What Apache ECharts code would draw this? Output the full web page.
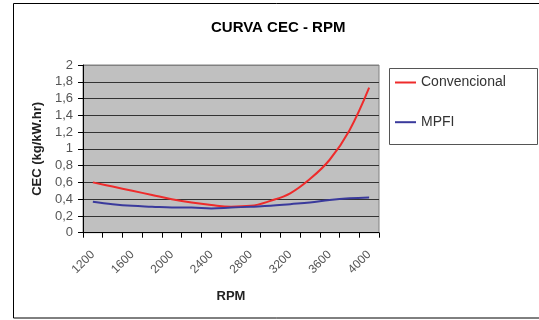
<!DOCTYPE html>
<html>
<head>
<meta charset="utf-8">
<script src="https://cdn.jsdelivr.net/npm/echarts@6/dist/echarts.min.js"></script>
<style>
html,body{margin:0;padding:0;background:#fff;}
#chart{width:539px;height:320px;}
</style>
</head>
<body>
<div id="chart"></div>
<script>
var rpmCategories = ['1200','1400','1600','1800','2000','2200','2400','2600','2800','3000','3200','3400','3600','3800','4000'];
var convencional = [0.60,0.55,0.50,0.45,0.40,0.36,0.33,0.31,0.32,0.38,0.47,0.64,0.87,1.22,1.73];
var mpfi = [0.37,0.34,0.32,0.31,0.30,0.30,0.29,0.30,0.31,0.32,0.34,0.36,0.39,0.41,0.42];
var seriesNames = ['Convencional','MPFI'];
var titleText = 'CURVA CEC - RPM';
var yAxisName = 'CEC (kg/kW.hr)';
var xAxisName = 'RPM';

var FONT = '"Liberation Sans", Arial, sans-serif';
var chart = echarts.init(document.getElementById('chart'), null, {renderer:'canvas'});
var gridLineColors = ['#808080','#333','#333','#333','#333','#333','#333','#333','#333','#333','#808080'];
chart.setOption({
  animation:false,
  backgroundColor:'#fff',
  title:{text:titleText, left:206, top:15,
    textStyle:{fontFamily:FONT, fontSize:15, fontWeight:'bold', color:'#000'}},
  legend:{left:390, top:70, orient:'vertical', icon:'rect', itemWidth:21, itemHeight:2, itemGap:24.7,
    textStyle:{fontFamily:FONT, fontSize:14, color:'#333', lineHeight:15},
    data:seriesNames},
  grid:{left:83, top:65, right:160, bottom:87.3, show:true, backgroundColor:'#c0c0c0', borderColor:'#808080', borderWidth:1},
  xAxis:{type:'category', data:rpmCategories, boundaryGap:true,
    name:xAxisName, nameLocation:'middle', nameGap:57,
    nameTextStyle:{fontFamily:FONT, fontSize:13, fontWeight:'bold', color:'#222'},
    axisLine:{lineStyle:{color:'#000', width:1}},
    axisTick:{show:true, interval:0, length:5, lineStyle:{color:'#000'}},
    axisLabel:{interval:1, rotate:45, margin:20, fontFamily:FONT, fontSize:12, color:'#555'},
    splitLine:{show:false}},
  yAxis:{type:'value', min:0, max:2, interval:0.2,
    name:yAxisName, nameLocation:'middle', nameGap:39,
    nameTextStyle:{fontFamily:FONT, fontSize:13, fontWeight:'bold', color:'#222'},
    axisLine:{show:true, lineStyle:{color:'#000', width:1}},
    axisTick:{show:true, length:5, lineStyle:{color:'#000'}},
    axisLabel:{margin:10, fontFamily:FONT, fontSize:13, color:'#555',
      formatter:function(v){return String(+v.toFixed(1)).replace('.', ',');}},
    splitLine:{show:true, lineStyle:{color:gridLineColors, width:1}}},
  graphic:[
    {type:'rect', shape:{x:13.5, y:3.5, width:540, height:314.5}, style:{fill:'none', stroke:'#000', lineWidth:1}, silent:true, z:-1},
    {type:'rect', shape:{x:389.5, y:68.5, width:148, height:76}, style:{fill:'#fff', stroke:'#555', lineWidth:1}, silent:true, z:-1}
  ],
  series:[
    {name:seriesNames[0], type:'line', data:convencional, smooth:0.4, symbol:'none',
      lineStyle:{color:'#ee2b2b', width:2}, itemStyle:{color:'#ee2b2b'}},
    {name:seriesNames[1], type:'line', data:mpfi, smooth:0.4, symbol:'none',
      lineStyle:{color:'#3a3a9c', width:2}, itemStyle:{color:'#3a3a9c'}}
  ]
});
</script>
</body>
</html>
